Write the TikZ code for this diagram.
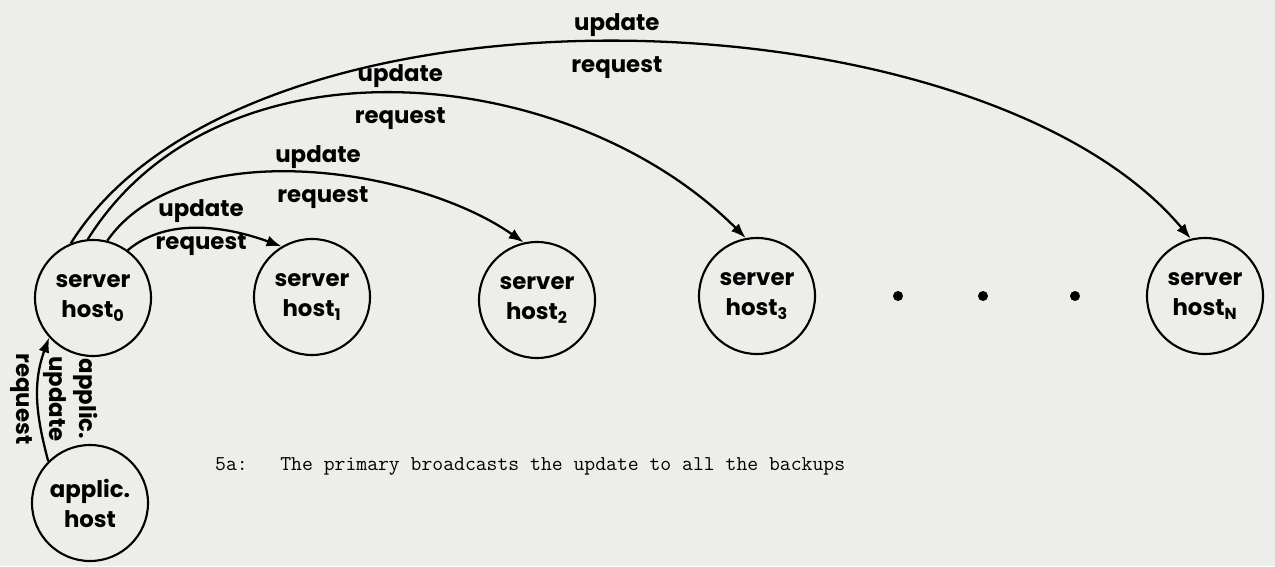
\documentclass[tikz,border=0pt]{standalone}
\usepackage{fontspec}
\setsansfont{Poppins}
\definecolor{paper}{RGB}{237, 237, 233}
\usetikzlibrary{arrows.meta, positioning, calc}

\begin{document}
\begin{tikzpicture}[x=0.2mm, y=0.2mm, font=\sffamily\bfseries\fontsize{13}{17}\selectfont,
  host/.style={draw, circle, line width=1.2pt, minimum size=23.2mm, inner sep=0pt, align=center},
  msg/.style={line width=1.3pt, -{Latex[length=3mm, width=2.2mm]}},
  lbl/.style={inner sep=2.5pt},
  dot/.style={circle, fill, inner sep=0pt, minimum size=2mm}]
  \fill[paper] (0,0) rectangle (1275,566);
  \useasboundingbox (0,0) rectangle (1275,566);

  % hosts
  \node[host] (h0) at (93,268) {server\\host\textsubscript{0}};
  \node[host] (h1) at (312,269) {server\\host\textsubscript{1}};
  \node[host] (h2) at (537,266) {server\\host\textsubscript{2}};
  \node[host] (h3) at (757,270) {server\\host\textsubscript{3}};
  \node[host] (hN) at (1205,270) {server\\host\textsubscript{N}};
  \node[host] (app) at (90,63) {applic.\\host};

  \node[dot] (d1) at (898,270) {};
  \node[dot] (d2) at (983,270) {};
  \node[dot] (d3) at (1075,270) {};

  % broadcast from the primary
  \draw[msg] (h0.54) to[out=40, in=160, looseness=0.9]
    node[above, lbl] {update} node[below, lbl] {request} (h1.121);
  \draw[msg] (h0.76) to[out=55, in=145, looseness=0.81]
    node[pos=.53, above, lbl] {update} node[pos=.54, below=4pt, lbl] {request} (h2.103);
  \draw[msg] (h0.95) to[out=58, in=135, looseness=0.97]
    node[above, lbl] {update} node[below=5pt, lbl] {request} (h3.101);
  \draw[msg] (h0.112) to[out=58, in=130, looseness=0.75]
    node[above, lbl] {update} node[below=5pt, lbl] {request} (hN.104);

  % request from the application
  \draw[msg] (app.135) to[out=105, in=250]
    node[rotate=-90, anchor=south, align=center, lbl] {applic.\\update}
    node[rotate=-90, anchor=north, lbl] {request} (h0.222);

  \node[font=\ttfamily\fontsize{12}{14}\selectfont, anchor=west] (cap) at (209,100)
    {5a:\ \ \ The primary broadcasts the update to all the backups};
\end{tikzpicture}
\end{document}
